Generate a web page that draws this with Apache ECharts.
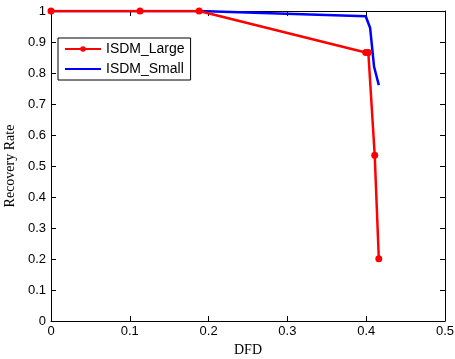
<!DOCTYPE html>
<html><head><meta charset="utf-8">
<script src="https://cdn.jsdelivr.net/npm/echarts@6/dist/echarts.min.js"></script>
<style>html,body{margin:0;padding:0;background:#fff}#c{width:455px;height:359px}</style>
</head><body><div id="c"></div>
<script>
var largeX = [0, 0.113, 0.188, 0.3994, 0.4027, 0.4108, 0.416];
var largeY = [1, 1, 1, 0.866, 0.866, 0.535, 0.201];
var smallX = [0, 0.113, 0.188, 0.3994, 0.405, 0.410, 0.416];
var smallY = [1, 1, 1, 0.983, 0.945, 0.82, 0.761];
var xTicks = [0, 0.1, 0.2, 0.3, 0.4, 0.5];
var yTicks = [0, 0.1, 0.2, 0.3, 0.4, 0.5, 0.6, 0.7, 0.8, 0.9, 1];

function pairs(xs, ys){ return xs.map(function(x,i){return [x, ys[i]];}); }
var chart = echarts.init(document.getElementById('c'));
var lab = {color:'#000', fontFamily:'Arial, Liberation Sans, sans-serif', fontSize:13};
chart.setOption({
  animation:false,
  grid:{left:51, right:10, top:11, bottom:38, show:false, containLabel:false, outerBoundsMode:'none'},
  legend:{
    left:58, top:38, orient:'vertical', itemWidth:36, itemHeight:7, itemGap:6,
    padding:[4,6,4,6], borderColor:'#000', borderWidth:1, backgroundColor:'#fff',
    textStyle:{color:'#000', fontFamily:'Arial, Liberation Sans, sans-serif', fontSize:14},
    data:[{name:'ISDM_Large'}, {name:'ISDM_Small', itemStyle:{opacity:0}}]
  },
  xAxis:[{
    type:'value', min:0, max:0.5, interval:0.1,
    name:'DFD', nameLocation:'middle', nameGap:21,
    nameTextStyle:{color:'#000', fontFamily:'Times New Roman, Liberation Serif, serif', fontSize:14},
    axisLine:{lineStyle:{color:'#000', width:1}},
    axisTick:{inside:true, length:5, lineStyle:{color:'#000'}},
    axisLabel:Object.assign({margin:4, formatter:function(v){return String(+v.toFixed(1));}}, lab),
    splitLine:{show:false}
  },{
    type:'value', min:0, max:0.5, interval:0.1, position:'top',
    axisLine:{show:true, onZero:false, lineStyle:{color:'#000', width:1}},
    axisTick:{inside:true, length:5, lineStyle:{color:'#000'}},
    axisLabel:{show:false}, splitLine:{show:false}
  }],
  yAxis:[{
    type:'value', min:0, max:1, interval:0.1,
    name:'Recovery Rate', nameLocation:'middle', nameGap:30,
    nameTextStyle:{color:'#000', fontFamily:'Times New Roman, Liberation Serif, serif', fontSize:14},
    axisLine:{show:true, lineStyle:{color:'#000', width:1}},
    axisTick:{show:true, inside:true, length:5, lineStyle:{color:'#000'}},
    axisLabel:Object.assign({margin:5, formatter:function(v){return String(+v.toFixed(1));}}, lab),
    splitLine:{show:false}
  },{
    type:'value', min:0, max:1, interval:0.1, position:'right',
    axisLine:{show:true, onZero:false, lineStyle:{color:'#000', width:1}},
    axisTick:{show:true, inside:true, length:5, lineStyle:{color:'#000'}},
    axisLabel:{show:false}, splitLine:{show:false}
  }],
  series:[{
    name:'ISDM_Large', type:'line', data:pairs(largeX, largeY),
    symbol:'circle', symbolSize:7, showSymbol:true,
    itemStyle:{color:'#ff0000'}, lineStyle:{color:'#ff0000', width:2.5}, z:3
  },{
    name:'ISDM_Small', type:'line', data:pairs(smallX, smallY),
    symbol:'none', itemStyle:{color:'#0000ff'}, lineStyle:{color:'#0000ff', width:2.5}, z:2
  }]
});
</script></body></html>
